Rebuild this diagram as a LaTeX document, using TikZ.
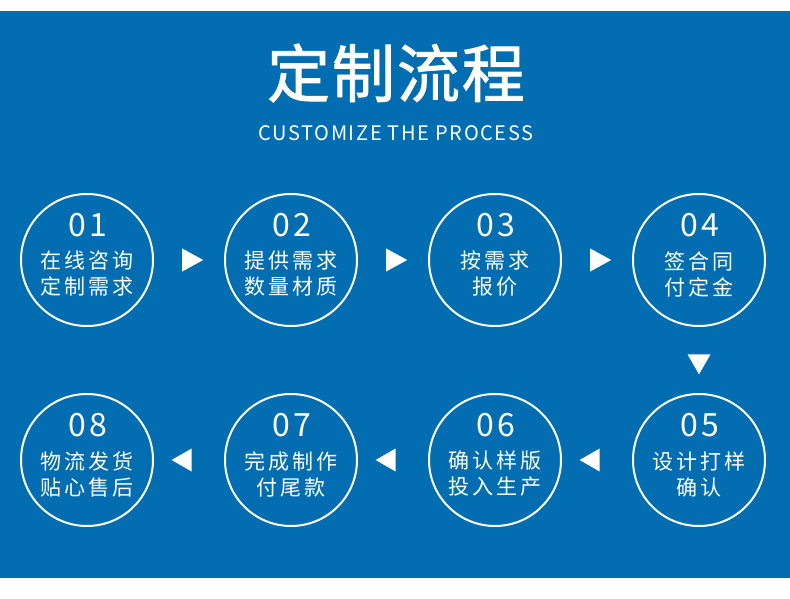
\documentclass[tikz,border=0pt]{standalone}
\usepackage{fontspec}
\setmainfont{Noto Sans CJK SC}
\newfontfamily\cjk{Noto Sans CJK SC}
\newfontfamily\titlefont[FakeBold=1.4,LetterSpace=3]{Noto Sans CJK SC}
\newfontfamily\cjkstep[LetterSpace=14]{Noto Sans CJK SC}
\newfontfamily\numfont[LetterSpace=12]{Noto Sans CJK SC}
\newfontfamily\subfont[LetterSpace=8]{Noto Sans CJK SC}
\usetikzlibrary{positioning,calc,shapes.geometric}
\definecolor{bandblue}{RGB}{2,110,177}
\tikzset{
  stepring/.style={circle,draw=white,line width=2pt,minimum size=132pt,inner sep=0pt},
  stepnum/.style={text=white,inner sep=0pt,font=\numfont\fontsize{32}{32}\selectfont},
  steptext/.style={text=white,inner sep=0pt,align=center,font=\cjkstep\fontsize{21}{26}\selectfont},
  pointer/.style={isosceles triangle,isosceles triangle stretches,fill=white,inner sep=0pt,
    minimum height=21pt,minimum width=23pt}
}
\begin{document}
\begin{tikzpicture}[x=1pt,y=-1pt]
% page and blue band
\useasboundingbox (0,0) rectangle (790,599);
\fill[white] (0,0) rectangle (790,599);
\fill[bandblue] (0,11) rectangle (790,578);

% heading
\node[text=white,inner sep=0pt,font=\titlefont\fontsize{63}{63}\selectfont] (title) at (396,73) {定制流程};
\node[text=white,inner sep=0pt,font=\subfont\fontsize{20}{20}\selectfont] (subtitle) at (396,133) {CUSTOMIZE THE PROCESS};

% first row
\node[stepring] (c1) at (87,260) {};
\node[stepring] (c2) at (291,260) {};
\node[stepring] (c3) at (495,260) {};
\node[stepring] (c4) at (699,260) {};
% second row
\node[stepring] (c5) at (699,460) {};
\node[stepring] (c6) at (495,460) {};
\node[stepring] (c7) at (291,460) {};
\node[stepring] (c8) at (87,460) {};

% numbers
\node[stepnum] (n1) at ($(c1)+(1,-35)$) {01};
\node[stepnum] (n2) at ($(c2)+(1,-35)$) {02};
\node[stepnum] (n3) at ($(c3)+(1,-35)$) {03};
\node[stepnum] (n4) at ($(c4)+(1,-35)$) {04};
\node[stepnum] (n5) at ($(c5)+(1,-35)$) {05};
\node[stepnum] (n6) at ($(c6)+(1,-35)$) {06};
\node[stepnum] (n7) at ($(c7)+(1,-35)$) {07};
\node[stepnum] (n8) at ($(c8)+(1,-35)$) {08};

% step texts
\node[steptext] (t1) at ($(c1)+(0,14)$) {在线咨询\\定制需求};
\node[steptext] (t2) at ($(c2)+(0,14)$) {提供需求\\数量材质};
\node[steptext] (t3) at ($(c3)+(0,14)$) {按需求\\报价};
\node[steptext] (t4) at ($(c4)+(0,14)$) {签合同\\付定金};
\node[steptext] (t5) at ($(c5)+(0,14)$) {设计打样\\确认};
\node[steptext] (t6) at ($(c6)+(0,14)$) {确认样版\\投入生产};
\node[steptext] (t7) at ($(c7)+(0,14)$) {完成制作\\付尾款};
\node[steptext] (t8) at ($(c8)+(0,14)$) {物流发货\\贴心售后};

% pointers between steps
\node[pointer] (a12) at ($(c1)!0.5!(c2)$) {};
\node[pointer] (a23) at ($(c2)!0.5!(c3)$) {};
\node[pointer] (a34) at ($(c3)!0.5!(c4)$) {};
\node[pointer,shape border rotate=-90,minimum height=20pt] (a45) at ($(c4)!0.5!(c5)+(0,1)$) {};
\node[pointer,shape border rotate=180,minimum height=20pt] (a56) at ($(c5)!0.5!(c6)+(-4,0)$) {};
\node[pointer,shape border rotate=180,minimum height=20pt] (a67) at ($(c6)!0.5!(c7)+(-4,0)$) {};
\node[pointer,shape border rotate=180,minimum height=20pt] (a78) at ($(c7)!0.5!(c8)+(-4,0)$) {};
\end{tikzpicture}
\end{document}
